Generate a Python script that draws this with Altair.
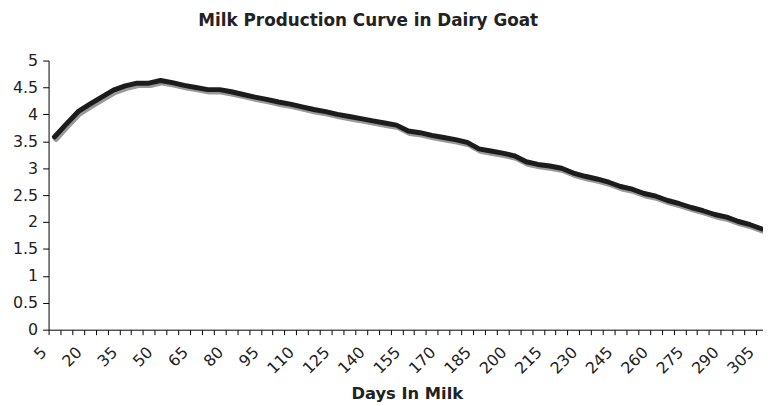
import altair as alt
import pandas as pd

days = [5, 10, 15, 20, 25, 30, 35, 40, 45, 50, 55, 60, 65, 70, 75, 80, 85, 90, 95, 100,
        105, 110, 115, 120, 125, 130, 135, 140, 145, 150, 155, 160, 165, 170, 175, 180,
        185, 190, 195, 200, 205, 210, 215, 220, 225, 230, 235, 240, 245, 250, 255, 260,
        265, 270, 275, 280, 285, 290, 295, 300, 305]
milk = [3.58, 3.82, 4.05, 4.19, 4.32, 4.45, 4.53, 4.58, 4.58, 4.63, 4.59, 4.54, 4.50,
        4.46, 4.46, 4.42, 4.37, 4.32, 4.28, 4.23, 4.19, 4.14, 4.09, 4.05, 4.00, 3.96,
        3.92, 3.88, 3.84, 3.80, 3.69, 3.66, 3.61, 3.57, 3.53, 3.48, 3.36, 3.32, 3.28,
        3.23, 3.12, 3.07, 3.04, 3.00, 2.91, 2.85, 2.80, 2.74, 2.66, 2.61, 2.53, 2.48,
        2.40, 2.34, 2.27, 2.21, 2.14, 2.09, 2.01, 1.95, 1.87]
y_ticks = [0, 0.5, 1, 1.5, 2, 2.5, 3, 3.5, 4, 4.5, 5]

df = pd.DataFrame({"day": days, "milk": milk})

FONT = "DejaVu Sans"

x_enc = alt.X(
    "day:O",
    sort=days,
    scale=alt.Scale(range=[0, 727], paddingInner=0, paddingOuter=0),
    axis=alt.Axis(
        title="Days In Milk",
        titleFont=FONT, titleFontSize=16.5, titleFontWeight="bold", titleColor="#222222",
        titleX=362, titleY=70, titleBaseline="alphabetic", titleAnchor="middle",
        labelAngle=-45, labelAlign="right", labelBaseline="middle",
        labelOffset=-11, labelPadding=15,
        labelExpr="(datum.value - 5) % 15 == 0 ? datum.label : ''",
        labelOverlap=False, labelFont=FONT, labelFontSize=16, labelColor="#222222",
        tickBand="extent", tickSize=5, tickColor="#000000",
        domainColor="#000000", grid=False,
    ),
)

y_enc = alt.Y(
    "milk:Q",
    scale=alt.Scale(domain=[0, 5], nice=False, zero=True),
    axis=alt.Axis(
        title=None, values=y_ticks, format="~g",
        labelFont=FONT, labelFontSize=16, labelColor="#222222", labelPadding=5,
        tickSize=6, tickColor="#000000", domainColor="#000000", grid=False,
    ),
)

shadow = alt.Chart(df).mark_line(
    color="#999999", strokeWidth=5, strokeCap="round", strokeJoin="round",
    xOffset=1.5, yOffset=2.5,
).encode(x=x_enc, y=y_enc)

line = alt.Chart(df).mark_line(
    color="#1c1c1c", strokeWidth=5, strokeCap="round", strokeJoin="round",
).encode(x=x_enc, y=y_enc)

chart = alt.layer(shadow, line).properties(
    width=722,
    height=272,
    autosize=alt.AutoSizeParams(type="none"),
    padding={"left": 41, "top": 51, "right": 0, "bottom": 75},
    title=alt.TitleParams(
        "Milk Production Curve in Dairy Goat",
        font=FONT, fontSize=17, fontWeight="bold", color="#222222",
        anchor="middle", frame="group", dx=-38, offset=10, baseline="alphabetic",
    ),
).configure_view(stroke=None)

chart.save("out.html", embed_options={"renderer": "svg", "actions": False})
